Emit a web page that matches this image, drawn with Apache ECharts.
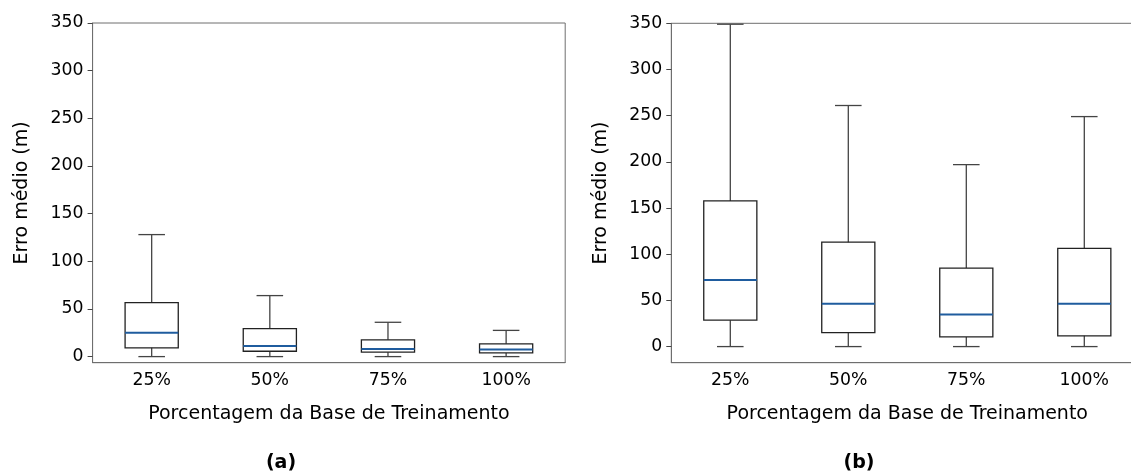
<!DOCTYPE html>
<html>
<head>
<meta charset="utf-8">
<script src="https://cdn.jsdelivr.net/npm/echarts@6/dist/echarts.min.js"></script>
<style>html,body{margin:0;padding:0;background:#fff;}#c{width:1131px;height:473px;}</style>
</head>
<body>
<div id="c"></div>
<script>
// ---- data ----
const categories = ['25%', '50%', '75%', '100%'];
const yTicks = [0, 50, 100, 150, 200, 250, 300, 350];
// panel (a)
const aLow  = [0, 0, 0, 0];
const aQ1   = [9.2, 5.6, 4.6, 3.9];
const aMed  = [25, 11, 8, 7.4];
const aQ3   = [56.7, 29.3, 17.6, 13.4];
const aHigh = [128, 64, 36, 27.5];
// panel (b)
const bLow  = [0, 0, 0, 0];
const bQ1   = [28.6, 15.2, 10.5, 11.6];
const bMed  = [72, 46.3, 34.7, 46.3];
const bQ3   = [157.7, 113, 85, 106.3];
const bHigh = [349, 261, 197, 249];

const FONT = 'DejaVu Sans';
const FS = 17.3;
const FT = 19;
const SPINE = '#6e6e6e';

function rows(low, q1, med, q3, high) {
  return categories.map((c, i) => [i, low[i], q1[i], med[i], q3[i], high[i]]);
}

function renderBox(params, api) {
  const i = api.value(0);
  const low = api.value(1), q1 = api.value(2), med = api.value(3), q3 = api.value(4), high = api.value(5);
  const band = api.size([1, 0])[0];
  const bw = band * 0.45, cw = bw * 0.5;
  const pLow = api.coord([i, low]), pQ1 = api.coord([i, q1]), pMed = api.coord([i, med]);
  const pQ3 = api.coord([i, q3]), pHigh = api.coord([i, high]);
  const x = pMed[0];
  const ws = { stroke: '#444', lineWidth: 1.3 };
  return {
    type: 'group',
    children: [
      { type: 'line', shape: { x1: x, y1: pQ1[1], x2: x, y2: pLow[1] }, style: ws },
      { type: 'line', shape: { x1: x, y1: pQ3[1], x2: x, y2: pHigh[1] }, style: ws },
      { type: 'line', shape: { x1: x - cw / 2, y1: pLow[1], x2: x + cw / 2, y2: pLow[1] }, style: ws },
      { type: 'line', shape: { x1: x - cw / 2, y1: pHigh[1], x2: x + cw / 2, y2: pHigh[1] }, style: ws },
      { type: 'rect', shape: { x: x - bw / 2, y: pQ3[1], width: bw, height: pQ1[1] - pQ3[1] }, style: { stroke: '#222', lineWidth: 1.3, fill: null } },
      { type: 'line', shape: { x1: x - bw / 2, y1: pMed[1], x2: x + bw / 2, y2: pMed[1] }, style: { stroke: '#1f5c9e', lineWidth: 2 } }
    ]
  };
}

function xAxisCfg(gi) {
  return {
    type: 'category', gridIndex: gi, data: categories, boundaryGap: true,
    name: 'Porcentagem da Base de Treinamento', nameLocation: 'middle', nameGap: 42,
    nameTextStyle: { fontFamily: FONT, fontSize: FT, color: '#000' },
    axisLine: { onZero: false, lineStyle: { color: SPINE, width: 1 } },
    axisTick: { alignWithLabel: true, length: 5, lineStyle: { color: '#444' } },
    axisLabel: { fontFamily: FONT, fontSize: FS, color: '#000', margin: 9 },
    splitLine: { show: false }
  };
}
function yAxisCfg(gi, min) {
  return {
    type: 'value', gridIndex: gi, min: min, max: 350,
    name: 'Erro médio (m)', nameLocation: 'middle', nameGap: 61,
    nameTextStyle: { fontFamily: FONT, fontSize: FT, color: '#000' },
    axisLine: { show: true, lineStyle: { color: SPINE, width: 1 } },
    axisTick: { show: true, length: 5, customValues: yTicks, lineStyle: { color: '#444' } },
    axisLabel: { fontFamily: FONT, fontSize: FS, color: '#000', margin: 9, customValues: yTicks },
    splitLine: { show: false }
  };
}

const chart = echarts.init(document.getElementById('c'), null, { renderer: 'canvas' });
chart.setOption({
  animation: false,
  backgroundColor: '#fff',
  grid: [
    { left: 92.6, top: 23, width: 472.6, height: 339.7, show: true, borderColor: SPINE, borderWidth: 1, backgroundColor: 'transparent', outerBoundsMode: 'none', containLabel: false },
    { left: 671.3, top: 23.3, width: 472, height: 339.4, show: true, borderColor: SPINE, borderWidth: 1, backgroundColor: 'transparent', outerBoundsMode: 'none', containLabel: false }
  ],
  xAxis: [xAxisCfg(0), xAxisCfg(1)],
  yAxis: [yAxisCfg(0, -6.4), yAxisCfg(1, -17.45)],
  series: [
    { type: 'custom', xAxisIndex: 0, yAxisIndex: 0, data: rows(aLow, aQ1, aMed, aQ3, aHigh), renderItem: renderBox,
      encode: { x: 0, y: [1, 2, 3, 4, 5] } },
    { type: 'custom', xAxisIndex: 1, yAxisIndex: 1, data: rows(bLow, bQ1, bMed, bQ3, bHigh), renderItem: renderBox,
      encode: { x: 0, y: [1, 2, 3, 4, 5] } }
  ],
  graphic: [
    { type: 'text', x: 281, y: 463, style: { text: '(a)', font: 'bold 19px "DejaVu Sans"', fill: '#000', align: 'center', verticalAlign: 'middle' } },
    { type: 'text', x: 859, y: 463, style: { text: '(b)', font: 'bold 19px "DejaVu Sans"', fill: '#000', align: 'center', verticalAlign: 'middle' } }
  ]
});
</script>
</body>
</html>
